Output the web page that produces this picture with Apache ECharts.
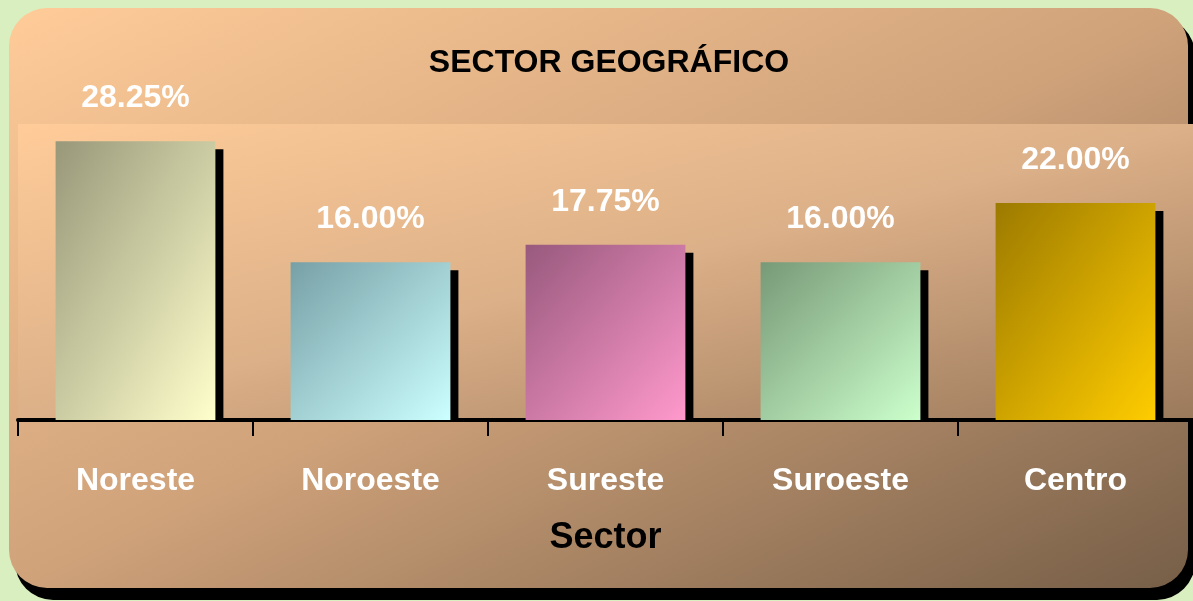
<!DOCTYPE html>
<html>
<head>
<meta charset="utf-8">
<title>Sector geográfico</title>
<script src="https://cdn.jsdelivr.net/npm/echarts@6/dist/echarts.min.js"></script>
<style>
  html, body { margin: 0; padding: 0; background: #daefc0; }
  #chart { width: 1193px; height: 601px; }
</style>
</head>
<body>
<div id="chart"></div>
<script>
// datos
const sectores = ['Noreste', 'Noroeste', 'Sureste', 'Suroeste', 'Centro'];
const porcentajes = [28.25, 16.00, 17.75, 16.00, 22.00];
// colores de cada barra: [arriba-izquierda, abajo-derecha]
const coloresBarra = [
  ['#98987a', '#ffffcc'],
  ['#77a0a6', '#ccffff'],
  ['#98597d', '#ff99cc'],
  ['#779977', '#ccffcc'],
  ['#9c7a00', '#ffcc00'],
];

const FONT = "'Liberation Sans', Arial, sans-serif";
const Y_MAX = 30;
const GRID = { left: 18, top: 124, width: 1180, height: 296 };
const BAR_RATIO = 0.68;

// degradado de esquina a esquina con la esquina opuesta a mitad (como en Excel)
function diagGlobal(x, y, w, h, stops) {
  const len = 2 * w * h / (w * w + h * h);
  return new echarts.graphic.LinearGradient(x, y, x + h * len, y + w * len, stops, true);
}
function barGradient(c, v) {
  const w = GRID.width / sectores.length * BAR_RATIO;
  const h = v * GRID.height / Y_MAX;
  const s = w * w + h * h;
  return new echarts.graphic.LinearGradient(0, 0, 2 * h * h / s, 2 * w * w / s, [
    { offset: 0, color: c[0] },
    { offset: 1, color: c[1] },
  ]);
}

const chart = echarts.init(document.getElementById('chart'));

chart.setOption({
  animation: false,
  backgroundColor: '#daefc0',
  graphic: [
    {
      type: 'rect',
      z: -10,
      shape: { x: 15, y: 17, width: 1180, height: 583, r: 38 },
      style: { fill: '#000' },
    },
    {
      type: 'rect',
      z: -9,
      shape: { x: 9, y: 8, width: 1179, height: 580, r: 38 },
      style: {
        fill: diagGlobal(9, 8, 1179, 580, [
          { offset: 0, color: '#ffcc99' },
          { offset: 0.5, color: '#cfa27a' },
          { offset: 1, color: '#765e47' },
        ]),
      },
    },
  ],
  title: {
    text: 'SECTOR GEOGRÁFICO',
    left: 604,
    top: 42,
    textAlign: 'center',
    textStyle: { fontFamily: FONT, fontWeight: 'bold', fontSize: 32, color: '#000' },
  },
  grid: {
    left: GRID.left,
    top: GRID.top,
    width: GRID.width,
    height: GRID.height,
    show: true,
    borderWidth: 0,
    backgroundColor: diagGlobal(GRID.left, GRID.top, GRID.width, GRID.height, [
      { offset: 0, color: '#ffcc99' },
      { offset: 0.5, color: '#dcb088' },
      { offset: 1, color: '#9a795b' },
    ]),
  },
  xAxis: {
    type: 'category',
    data: sectores,
    name: 'Sector',
    nameLocation: 'middle',
    nameGap: 100,
    nameTextStyle: { fontFamily: FONT, fontWeight: 'bold', fontSize: 36, color: '#000' },
    axisLine: { lineStyle: { color: '#000', width: 4 } },
    axisTick: { show: true, length: 16, lineStyle: { color: '#000', width: 2 } },
    axisLabel: {
      margin: 45,
      color: '#fff',
      fontFamily: FONT,
      fontWeight: 'bold',
      fontSize: 32,
    },
  },
  yAxis: {
    type: 'value',
    min: 0,
    max: Y_MAX,
    show: false,
    splitLine: { show: false },
  },
  series: [
    {
      // sombra negra de cada barra
      type: 'custom',
      z: 1,
      silent: true,
      data: porcentajes.map((v, i) => [i, v]),
      renderItem: (params, api) => {
        const top = api.coord([api.value(0), api.value(1)]);
        const base = api.coord([api.value(0), 0]);
        const w = api.size([1, 0])[0] * BAR_RATIO;
        return {
          type: 'rect',
          shape: { x: top[0] - w / 2 + 8, y: top[1] + 8, width: w, height: base[1] - top[1] - 8 },
          style: { fill: '#000' },
        };
      },
    },
    {
      type: 'bar',
      z: 2,
      barWidth: BAR_RATIO * 100 + '%',
      data: porcentajes.map((v, i) => ({
        value: v,
        itemStyle: { color: barGradient(coloresBarra[i], v) },
      })),
      label: {
        show: true,
        position: 'top',
        distance: 27,
        color: '#fff',
        fontFamily: FONT,
        fontWeight: 'bold',
        fontSize: 32,
        formatter: (p) => p.value.toFixed(2) + '%',
      },
    },
  ],
});
</script>
</body>
</html>
